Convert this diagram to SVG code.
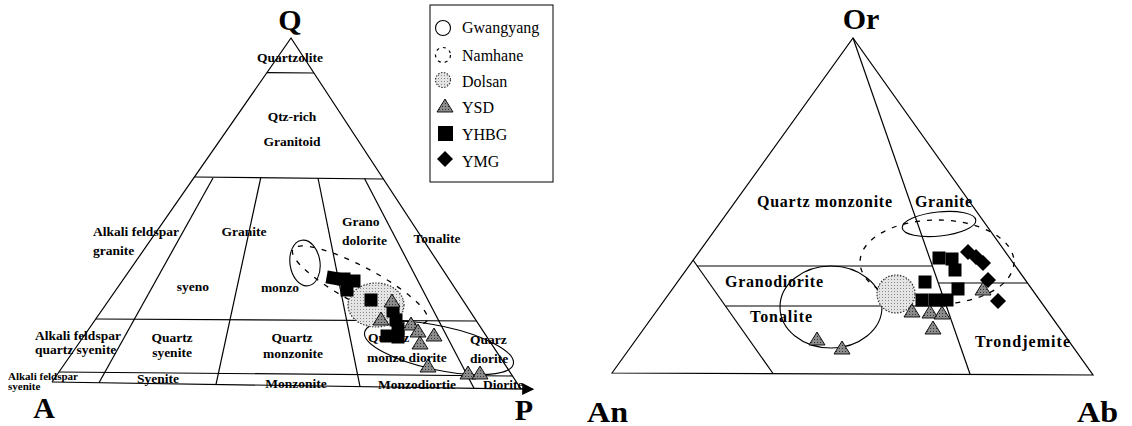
<svg xmlns="http://www.w3.org/2000/svg" width="1132" height="426" viewBox="0 0 1132 426">
<style>
.ln{stroke:#000;stroke-width:1.2;fill:none}
.lb{font-family:"Liberation Serif","Times New Roman",serif;font-weight:bold;font-size:13.5px;fill:#000}
.sm{font-size:11px}
.rl{font-size:16px}
.big{font-family:"Liberation Serif","Times New Roman",serif;font-weight:bold;font-size:30px;fill:#000}
.lg{font-family:"Liberation Serif","Times New Roman",serif;font-size:16px;fill:#000}
.gw{fill:none;stroke:#000;stroke-width:1.1}
.nm{fill:none;stroke:#000;stroke-width:1.3;stroke-dasharray:5 7}
.ds{fill:url(#stip);stroke:#333;stroke-width:1.2;stroke-dasharray:1.5 1.5}
.tr{fill:url(#hatch);stroke:#000;stroke-width:0.9}
.sqf{fill:#000}
</style>
<defs>
<pattern id="stip" width="3" height="3" patternUnits="userSpaceOnUse">
<rect width="3" height="3" fill="#e4e4e4"/><rect width="1" height="1" fill="#8a8a8a"/>
</pattern>
<pattern id="hatch" width="3" height="3" patternUnits="userSpaceOnUse">
<rect width="3" height="3" fill="#8c8c8c"/><rect width="1" height="1" fill="#333"/>
</pattern>
<path id="tri" d="M0,-7 L8,6 L-8,6 Z"/>
<rect id="sq" x="-6.5" y="-6.5" width="13" height="13"/>
<path id="dm" d="M0,-8 L8,0 L0,8 L-8,0 Z"/>
<marker id="arr" viewBox="0 0 10 10" refX="9" refY="5" markerWidth="16" markerHeight="12" markerUnits="userSpaceOnUse" orient="auto"><path d="M0,0 L10,5 L0,10 Z" fill="#000"/></marker>
</defs>

<!-- LEFT QAPF triangle -->
<g id="qapf-frame">
<path class="ln" d="M52,382 L291,38 L521,389"/>
<line class="ln" x1="52" y1="382" x2="533" y2="389.2" marker-end="url(#arr)"/>
<line class="ln" x1="267" y1="72.6" x2="314" y2="73"/>
<line class="ln" x1="194.4" y1="177" x2="383.4" y2="179"/>
<line class="ln" x1="95.8" y1="319" x2="476.4" y2="321"/>
<line class="ln" x1="58.9" y1="372" x2="512.5" y2="376"/>
<line class="ln" x1="213" y1="178" x2="99" y2="382.7"/>
<line class="ln" x1="260.7" y1="178" x2="216" y2="384.4"/>
<line class="ln" x1="318" y1="178" x2="360" y2="386.6"/>
<line class="ln" x1="364.5" y1="178.5" x2="474" y2="388.3"/>
</g>
<g id="qapf-labels">
<text class="big" x="290" y="30" text-anchor="middle">Q</text>
<text class="big" x="44" y="418" text-anchor="middle">A</text>
<text class="big" x="524" y="420" text-anchor="middle">P</text>
<text class="lb" x="290" y="62" text-anchor="middle">Quartzolite</text>
<text class="lb" x="292" y="121" text-anchor="middle">Qtz-rich</text>
<text class="lb" x="292" y="146" text-anchor="middle">Granitoid</text>
<text class="lb" x="93" y="236">Alkali feldspar</text>
<text class="lb" x="93" y="255">granite</text>
<text class="lb" x="244" y="236" text-anchor="middle">Granite</text>
<text class="lb" x="193" y="291" text-anchor="middle">syeno</text>
<text class="lb" x="280" y="292" text-anchor="middle">monzo</text>
<text class="lb" x="342" y="226">Grano</text>
<text class="lb" x="342" y="245">dolorite</text>
<text class="lb" x="437" y="243" text-anchor="middle">Tonalite</text>
<text class="lb" x="35" y="340">Alkali feldspar</text>
<text class="lb" x="35" y="354">quartz syenite</text>
<text class="lb" x="172" y="342" text-anchor="middle">Quartz</text>
<text class="lb" x="172" y="357" text-anchor="middle">syenite</text>
<text class="lb" x="292" y="342" text-anchor="middle">Quartz</text>
<text class="lb" x="293" y="358" text-anchor="middle">monzonite</text>
<text class="lb" x="368" y="342">Quartz</text>
<text class="lb" x="367" y="362">monzo diorite</text>
<text class="lb" x="470" y="344">Quarz</text>
<text class="lb" x="470" y="363">diorite</text>
<text class="lb sm" x="8" y="380">Alkali feldspar</text>
<text class="lb sm" x="8" y="390">syenite</text>
<text class="lb" x="158" y="383" text-anchor="middle">Syenite</text>
<text class="lb" x="296" y="388" text-anchor="middle">Monzonite</text>
<text class="lb" x="378" y="389">Monzodiortie</text>
<text class="lb" x="483" y="389">Diorite</text>
</g>
<g id="qapf-data">
<ellipse class="gw" cx="305" cy="263" rx="15" ry="23" transform="rotate(-8 305 263)"/>
<ellipse class="gw" cx="439" cy="348" rx="76" ry="22" transform="rotate(12 439 348)"/>
<ellipse class="nm" cx="360" cy="285" rx="76" ry="18" transform="rotate(28 360 285)"/>
<ellipse class="ds" cx="376" cy="305" rx="28" ry="22"/>
<g class="sqf">
<use href="#sq" x="333" y="278" transform="rotate(10 333 278)"/>
<use href="#sq" x="344" y="279"/>
<use href="#sq" x="354" y="281"/>
<use href="#sq" x="347" y="290"/>
<use href="#sq" x="371" y="300"/>
<use href="#sq" x="393" y="311"/>
<use href="#sq" x="396" y="320"/>
<use href="#sq" x="398" y="329"/>
<use href="#sq" x="387" y="336"/>
<use href="#sq" x="398" y="337"/>
</g>
<g class="tr">
<use href="#tri" x="392" y="301"/>
<use href="#tri" x="381" y="319"/>
<use href="#tri" x="411" y="324"/>
<use href="#tri" x="418" y="331"/>
<use href="#tri" x="434" y="335"/>
<use href="#tri" x="420" y="343"/>
<use href="#tri" x="428" y="366"/>
<use href="#tri" x="468" y="373"/>
<use href="#tri" x="480" y="373"/>
</g>
</g>

<!-- Legend -->
<g id="legend">
<rect x="430" y="5" width="123" height="177" fill="#fff" stroke="#000" stroke-width="1"/>
<circle class="gw" cx="443" cy="28" r="7.5"/>
<circle cx="443" cy="55" r="7.5" fill="none" stroke="#000" stroke-width="1.2" stroke-dasharray="3 4"/>
<circle class="ds" cx="443" cy="80" r="7.5"/>
<use class="tr" href="#tri" x="445" y="106"/>
<rect x="438" y="126" width="15" height="15" fill="#000"/>
<use href="#dm" x="445" y="159"/>
<text class="lg" x="462" y="33">Gwangyang</text>
<text class="lg" x="462" y="61">Namhane</text>
<text class="lg" x="462" y="87">Dolsan</text>
<text class="lg" x="462" y="113">YSD</text>
<text class="lg" x="462" y="140">YHBG</text>
<text class="lg" x="462" y="167">YMG</text>
</g>

<!-- RIGHT An-Ab-Or triangle -->
<g id="anabor-frame">
<path class="ln" d="M612,373 L853,38 L1093,375 Z"/>
<line class="ln" x1="853" y1="38" x2="970" y2="374"/>
<line class="ln" x1="693" y1="260" x2="773" y2="373.5"/>
<line class="ln" x1="697" y1="266" x2="932.6" y2="266"/>
<line class="ln" x1="938.6" y1="283" x2="1027" y2="283"/>
<line class="ln" x1="725.6" y1="306" x2="946.6" y2="306"/>
</g>
<g id="anabor-labels">
<text class="big" x="861" y="29" text-anchor="middle">Or</text>
<text class="big" x="587" y="422" textLength="41" lengthAdjust="spacingAndGlyphs">An</text>
<text class="big" x="1077" y="422" textLength="41" lengthAdjust="spacingAndGlyphs">Ab</text>
<text class="lb rl" x="757" y="207" textLength="135">Quartz monzonite</text>
<text class="lb rl" x="915" y="207" textLength="57">Granite</text>
<text class="lb rl" x="725" y="287" textLength="98">Granodiorite</text>
<text class="lb rl" x="750" y="322" textLength="62">Tonalite</text>
<text class="lb rl" x="975" y="347" textLength="95">Trondjemite</text>
</g>
<g id="anabor-data">
<ellipse class="gw" cx="831" cy="307" rx="51" ry="41"/>
<ellipse class="gw" cx="939" cy="224" rx="37" ry="12" transform="rotate(-6 939 224)"/>
<ellipse class="nm" cx="937" cy="262" rx="77" ry="42"/>
<circle class="ds" cx="896" cy="294" r="19"/>
<g class="sqf">
<use href="#sq" x="939" y="258"/>
<use href="#sq" x="952" y="259"/>
<use href="#sq" x="955" y="270"/>
<use href="#sq" x="925" y="282"/>
<use href="#sq" x="958" y="289"/>
<use href="#sq" x="922" y="300"/>
<use href="#sq" x="935" y="300"/>
<use href="#sq" x="947" y="300"/>
</g>
<g>
<use href="#dm" x="968" y="252"/>
<use href="#dm" x="976" y="257"/>
<use href="#dm" x="983" y="263"/>
<use href="#dm" x="988" y="280"/>
<use href="#dm" x="998" y="301"/>
</g>
<g class="tr">
<use href="#tri" x="983" y="289"/>
<use href="#tri" x="912" y="311"/>
<use href="#tri" x="930" y="312"/>
<use href="#tri" x="942" y="313"/>
<use href="#tri" x="933" y="328"/>
<use href="#tri" x="817" y="339"/>
<use href="#tri" x="842" y="348"/>
</g>
</g>
</svg>
